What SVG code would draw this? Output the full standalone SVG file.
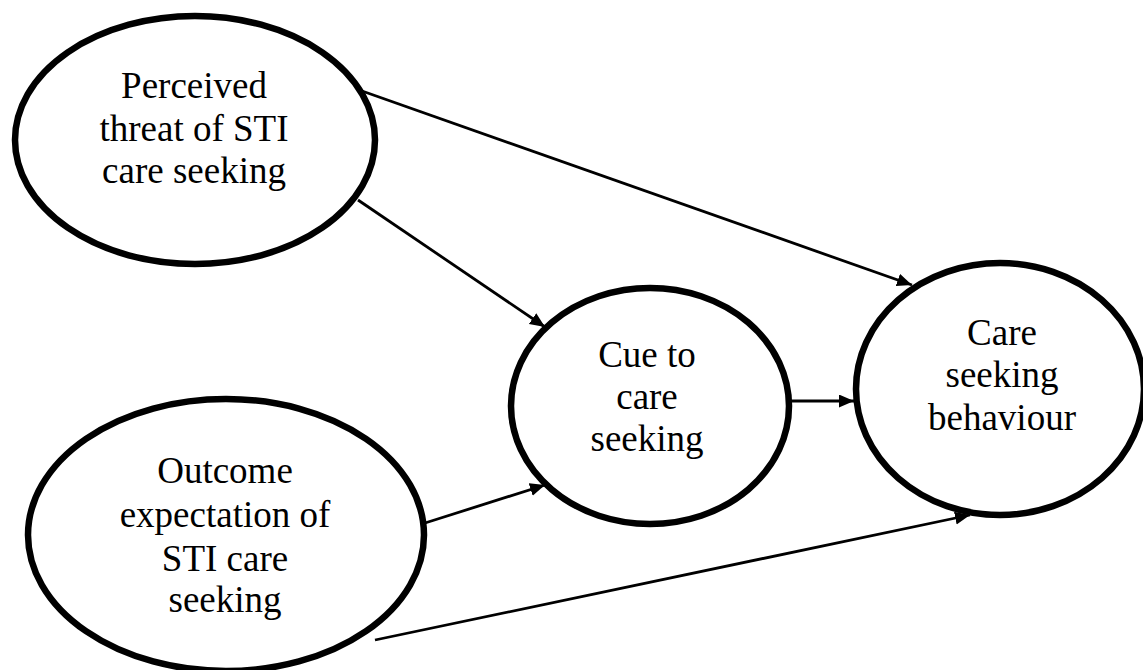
<svg xmlns="http://www.w3.org/2000/svg" width="1143" height="670" viewBox="0 0 1143 670">
<style>
.node{fill:#fff;stroke:#000;stroke-width:6.5}
.lbl{font-family:"Liberation Serif","Times New Roman",serif;font-size:37px;fill:#000;text-anchor:middle}
.edge{stroke:#000;stroke-width:2.8;fill:none;marker-end:url(#ah)}
</style>
<defs>
<marker id="ah" markerUnits="userSpaceOnUse" markerWidth="16" markerHeight="14" refX="15" refY="6.5" orient="auto">
<path d="M0,0 L15,6.5 L0,13 z" fill="#000"/>
</marker>
</defs>
<rect width="1143" height="670" fill="#fff"/>
<g id="connectors">
<line class="edge" x1="362" y1="91" x2="912" y2="285"/>
<line class="edge" x1="358" y1="200" x2="545" y2="327"/>
<line class="edge" x1="425" y1="523" x2="545" y2="485"/>
<line class="edge" x1="375" y1="640" x2="970" y2="515"/>
<line class="edge" x1="790" y1="401" x2="854" y2="401"/>
</g>
<g id="node-threat">
<ellipse class="node" cx="195" cy="140" rx="180" ry="124"/>
<text class="lbl" x="194" y="98">Perceived</text>
<text class="lbl" x="194" y="140.5">threat of STI</text>
<text class="lbl" x="194" y="183">care seeking</text>
</g>
<g id="node-outcome">
<ellipse class="node" cx="226" cy="535" rx="198" ry="136"/>
<text class="lbl" x="225" y="483">Outcome</text>
<text class="lbl" x="225" y="527">expectation of</text>
<text class="lbl" x="225" y="571">STI care</text>
<text class="lbl" x="225" y="612">seeking</text>
</g>
<g id="node-cue">
<ellipse class="node" cx="650" cy="406" rx="139" ry="118"/>
<text class="lbl" x="647" y="367">Cue to</text>
<text class="lbl" x="647" y="409">care</text>
<text class="lbl" x="647" y="451">seeking</text>
</g>
<g id="node-behaviour">
<ellipse class="node" cx="1000" cy="389" rx="144" ry="126"/>
<text class="lbl" x="1002" y="345">Care</text>
<text class="lbl" x="1002" y="387">seeking</text>
<text class="lbl" x="1002" y="430">behaviour</text>
</g>
</svg>
